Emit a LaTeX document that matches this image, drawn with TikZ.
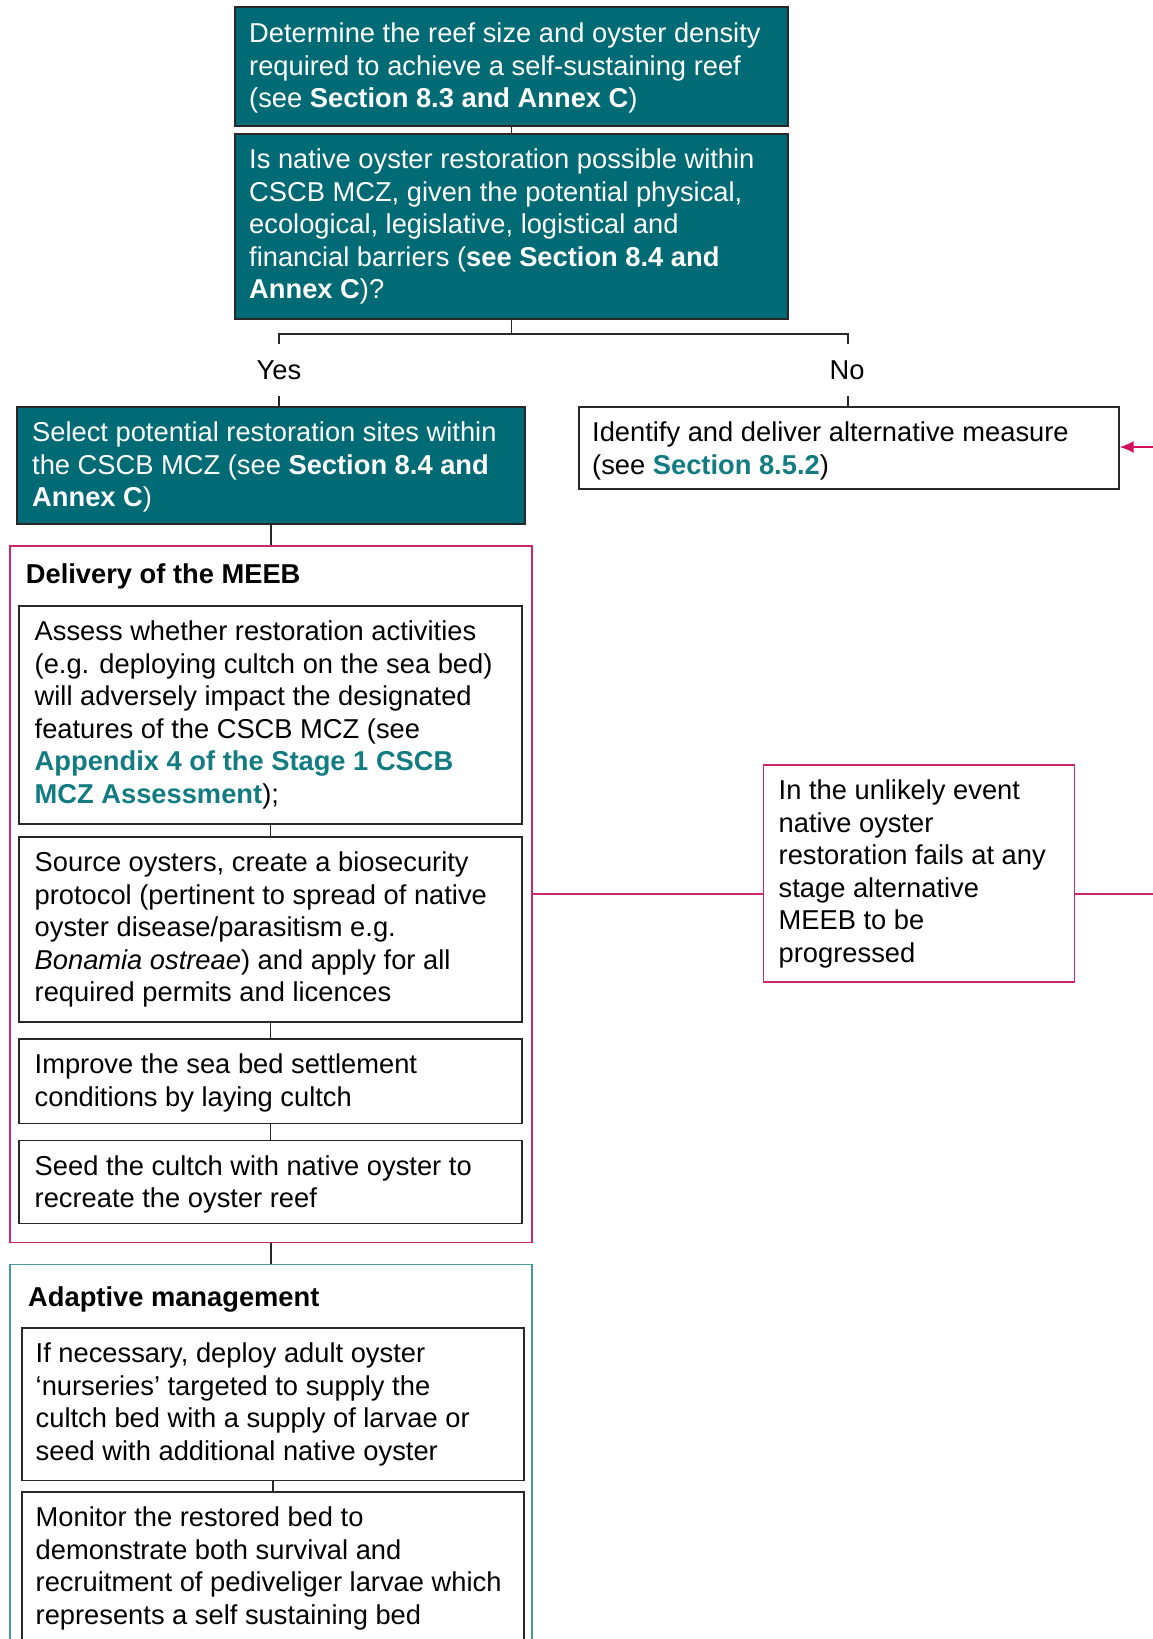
\documentclass[tikz,border=0pt]{standalone}
\usepackage{fontspec}
\setmainfont{Liberation Sans}
\usetikzlibrary{arrows.meta,calc}
\definecolor{tealfill}{RGB}{0,107,117}
\definecolor{tealtext}{RGB}{18,124,130}
\definecolor{magline}{RGB}{200,40,110}
\definecolor{magarrow}{RGB}{212,16,92}
\definecolor{adaptline}{RGB}{70,155,155}
\definecolor{boxline}{RGB}{40,40,40}
\newcommand\fst{\rule{0pt}{35.5pt}}
\newcommand\tlink[1]{\textcolor{tealtext}{\textbf{#1}}}
\begin{document}
\begin{tikzpicture}[x=1pt,y=-1pt,
  tbox/.style={draw=boxline, line width=1.6pt, fill=tealfill, anchor=north west, inner sep=0pt},
  wbox/.style={draw=boxline, line width=1.6pt, fill=white, anchor=north west, inner sep=0pt},
  grp/.style={line width=1.6pt, anchor=north west, inner sep=0pt},
  txt/.style={anchor=north west, inner sep=0pt, align=left, font=\fontsize{27.3}{32.5}\selectfont},
  ttl/.style={anchor=base west, inner sep=0pt, font=\fontsize{27.3}{32.5}\selectfont\bfseries},
  lbl/.style={anchor=base, inner sep=0pt, font=\fontsize{27.3}{32.5}\selectfont},
  conn/.style={draw=boxline, line width=1.4pt},
  mconn/.style={draw=magline, line width=1.8pt},
]
\useasboundingbox (0,0) rectangle (1153,1639);
\clip (0,0) rectangle (1153,1639);
\fill[white] (0,0) rectangle (1153,1639);

% top boxes
\node[tbox, minimum width=553pt, minimum height=119pt] (b1) at (234,6) {};
\node[txt, text=white] (t1) at ([xshift=15pt]b1.north west) {\rule{0pt}{36.5pt}Determine the reef size and oyster density\\required to achieve a self-sustaining reef\\(see \textbf{Section 8.3 and Annex C})};

\node[tbox, minimum width=553pt, minimum height=185pt] (b2) at (234,133) {};
\node[txt, text=white] (t2) at ([xshift=15pt]b2.north west) {\fst Is native oyster restoration possible within\\CSCB MCZ, given the potential physical,\\ecological, legislative, logistical and\\financial barriers (\textbf{see Section 8.4 and}\\\textbf{Annex C})?};

% yes / no
\coordinate (jn) at (510.5,334);
\coordinate (yl) at (279,334);
\coordinate (nl) at (848,334);
\coordinate (ytop) at (279,344);
\coordinate (ntop) at (848,344);
\coordinate (ybot) at (279,396);
\coordinate (nbot) at (848,396);
\node[lbl] (yes) at (279,379) {Yes};
\node[lbl] (no) at (847,379) {No};

\node[tbox, minimum width=508pt, minimum height=117pt] (b3) at (16,406) {};
\node[txt, text=white] (t3) at ([xshift=16pt]b3.north west) {\fst Select potential restoration sites within\\the CSCB MCZ (see \textbf{Section 8.4 and}\\\textbf{Annex C})};

\node[wbox, minimum width=540pt, minimum height=82pt] (b4) at (578,406) {};
\node[txt] (t4) at ([xshift=14pt]b4.north west) {\fst Identify and deliver alternative measure\\(see \tlink{Section 8.5.2})};

\draw[conn] (b1.south) -- (b2.north);
\draw[conn] (b2.south) -- (b2.south |- jn);
\draw[conn] (ytop) -- (yl) -- (nl) -- (ntop);
\draw[conn] (ybot) -- (b3.north -| ybot);
\draw[conn] (nbot) -- (b4.north -| nbot);

% delivery group
\node[grp, draw=magline, minimum width=522pt, minimum height=696.5pt] (deliv) at (9,545) {};
\node[ttl] (dtitle) at (25.7,583) {Delivery of the MEEB};

\node[wbox, minimum width=503pt, minimum height=218pt] (bA) at (18,605) {};
\node[txt] (tA) at ([xshift=16.5pt]bA.north west) {\fst Assess whether restoration activities\\(e.g. deploying cultch on the sea bed)\\will adversely impact the designated\\features of the CSCB MCZ (see\\\tlink{Appendix 4 of the Stage 1 CSCB}\\\tlink{MCZ Assessment});};

\node[wbox, minimum width=503pt, minimum height=185pt] (bB) at (18,836) {};
\node[txt] (tB) at ([xshift=16.5pt]bB.north west) {\fst Source oysters, create a biosecurity\\protocol (pertinent to spread of native\\oyster disease/parasitism e.g.\\\textit{Bonamia ostreae}) and apply for all\\required permits and licences};

\node[wbox, minimum width=503pt, minimum height=84.5pt] (bC) at (18,1038) {};
\node[txt] (tC) at ([xshift=16.5pt]bC.north west) {\fst Improve the sea bed settlement\\conditions by laying cultch};

\node[wbox, minimum width=503pt, minimum height=83pt] (bD) at (18,1139.5) {};
\node[txt] (tD) at ([xshift=16.5pt]bD.north west) {\fst Seed the cultch with native oyster to\\recreate the oyster reef};

\draw[conn] (b3.south) -- (b3.south |- deliv.north);
\draw[conn] (bA.south) -- (bB.north);
\draw[conn] (bB.south) -- (bC.north);
\draw[conn] (bC.south) -- (bD.north);

% adaptive group
\node[grp, draw=adaptline, minimum width=522pt, minimum height=430pt] (adapt) at (9,1263.5) {};
\node[ttl] (atitle) at (28,1306) {Adaptive management};

\node[wbox, minimum width=502pt, minimum height=152.5pt] (bE) at (21,1327) {};
\node[txt] (tE) at ([xshift=14.5pt]bE.north west) {\fst If necessary, deploy adult oyster\\‘nurseries’ targeted to supply the\\cultch bed with a supply of larvae or\\seed with additional native oyster};

\node[wbox, minimum width=502pt, minimum height=200pt] (bF) at (21,1491) {};
\node[txt] (tF) at ([xshift=14.5pt]bF.north west) {\fst Monitor the restored bed to\\demonstrate both survival and\\recruitment of pediveliger larvae which\\represents a self sustaining bed};

\draw[conn] (deliv.south) -- (adapt.north);
\draw[conn] (bE.south) -- (bF.north);

% unlikely event box
\node[grp, draw=magline, fill=white, minimum width=311pt, minimum height=217pt] (unl) at (762.5,764) {};
\node[txt] (tU) at ([xshift=16pt]unl.north west) {\fst In the unlikely event\\native oyster\\restoration fails at any\\stage alternative\\MEEB to be\\progressed};

\coordinate (aedge) at (1153,447);
\coordinate (redge) at (deliv.east -| aedge);
\draw[mconn] (deliv.east) -- (deliv.east -| unl.west);
\draw[mconn] (deliv.east -| unl.east) -- (redge);
\draw[mconn, draw=magarrow, -{Latex[length=14pt,width=12pt]}] (aedge) -- (aedge -| b4.east);
\end{tikzpicture}
\end{document}
